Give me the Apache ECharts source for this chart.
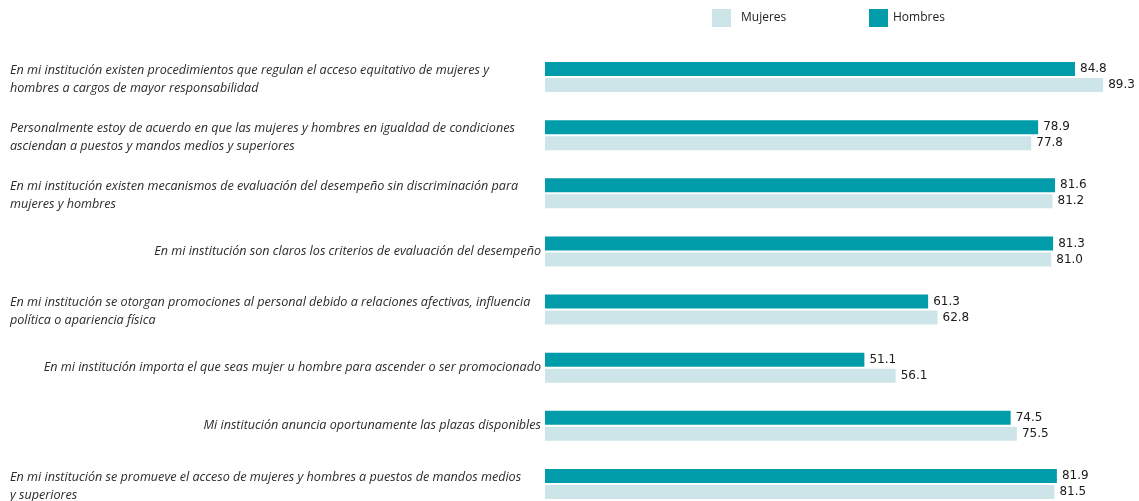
<!DOCTYPE html>
<html lang="es">
<head>
    <meta charset="UTF-8">
    <title>Promociones y ascensos</title>
    <script src="https://cdn.jsdelivr.net/npm/echarts@6/dist/echarts.min.js"></script>
    <style>
        * { margin: 0; padding: 0; }
        body { overflow: hidden; }
        /* el ultimo grupo de barras llega al borde inferior, por eso el lienzo es algo mas alto */
        #chart { width: 1139px; height: 513px; background: #fff; }
    </style>
</head>
<body>
    <div id="chart"></div>
    <script type="text/javascript">
        // categorias (los saltos de linea siguen el original)
        var categories = [
            'En mi institución existen procedimientos que regulan el acceso equitativo de mujeres y\nhombres a cargos de mayor responsabilidad',
            'Personalmente estoy de acuerdo en que las mujeres y hombres en igualdad de condiciones\nasciendan a puestos y mandos medios y superiores',
            'En mi institución existen mecanismos de evaluación del desempeño sin discriminación para\nmujeres y hombres',
            'En mi institución son claros los criterios de evaluación del desempeño',
            'En mi institución se otorgan promociones al personal debido a relaciones afectivas, influencia\npolítica o apariencia física',
            'En mi institución importa el que seas mujer u hombre para ascender o ser promocionado',
            'Mi institución anuncia oportunamente las plazas disponibles',
            'En mi institución se promueve el acceso de mujeres y hombres a puestos de mandos medios\ny superiores'
        ];
        var hombres = [84.8, 78.9, 81.6, 81.3, 61.3, 51.1, 74.5, 81.9];
        var mujeres = [89.3, 77.8, 81.2, 81.0, 62.8, 56.1, 75.5, 81.5];

        var colorHombres = '#009ca9';
        var colorMujeres = '#cde4e8';

        var chart = echarts.init(document.getElementById('chart'));

        var valueLabel = {
            show: true,
            position: 'right',
            distance: 5,
            fontFamily: 'DejaVu Sans',
            fontSize: 12,
            color: '#1a1a1a',
            formatter: function (p) { return p.value.toFixed(1); }
        };

        var legendText = {
            fontFamily: 'Open Sans',
            fontSize: 12,
            color: '#222'
        };

        var option = {
            animation: false,
            legend: [{
                data: ['Mujeres'],
                left: 712,
                top: 9,
                padding: 0,
                icon: 'rect',
                itemWidth: 19,
                itemHeight: 18,
                textStyle: Object.assign({ padding: [0, 0, 0, 5] }, legendText)
            }, {
                data: ['Hombres'],
                left: 869,
                top: 9,
                padding: 0,
                icon: 'rect',
                itemWidth: 19,
                itemHeight: 18,
                textStyle: legendText
            }],
            grid: {
                left: 545,
                right: 31.5,
                top: 48,
                bottom: 0,
                containLabel: false
            },
            xAxis: {
                type: 'value',
                min: 0,
                max: 90,
                show: false
            },
            yAxis: {
                type: 'category',
                data: categories,
                inverse: true,
                axisLine: { show: false },
                axisTick: { show: false },
                splitLine: { show: false },
                axisLabel: {
                    margin: 4,
                    align: 'right',
                    fontFamily: 'Open Sans',
                    fontStyle: 'italic',
                    fontSize: 12.6,
                    color: '#2b2b2b',
                    formatter: function (v) {
                        if (v.indexOf('\n') < 0) return v;
                        return v.split('\n').map(function (s) { return '{w|' + s + '}'; }).join('\n');
                    },
                    rich: {
                        w: {
                            width: 531,
                            align: 'left',
                            lineHeight: 18,
                            padding: [4, 0, 0, 0],
                            fontFamily: 'Open Sans',
                            fontStyle: 'italic',
                            fontSize: 12.6,
                            color: '#2b2b2b'
                        }
                    }
                }
            },
            series: [{
                name: 'Hombres',
                type: 'bar',
                data: hombres,
                barWidth: 14,
                barGap: '15%',
                itemStyle: { color: colorHombres },
                label: valueLabel
            }, {
                name: 'Mujeres',
                type: 'bar',
                data: mujeres,
                barWidth: 14,
                barGap: '15%',
                itemStyle: { color: colorMujeres },
                label: valueLabel
            }]
        };

        chart.setOption(option);
    </script>
</body>
</html>
